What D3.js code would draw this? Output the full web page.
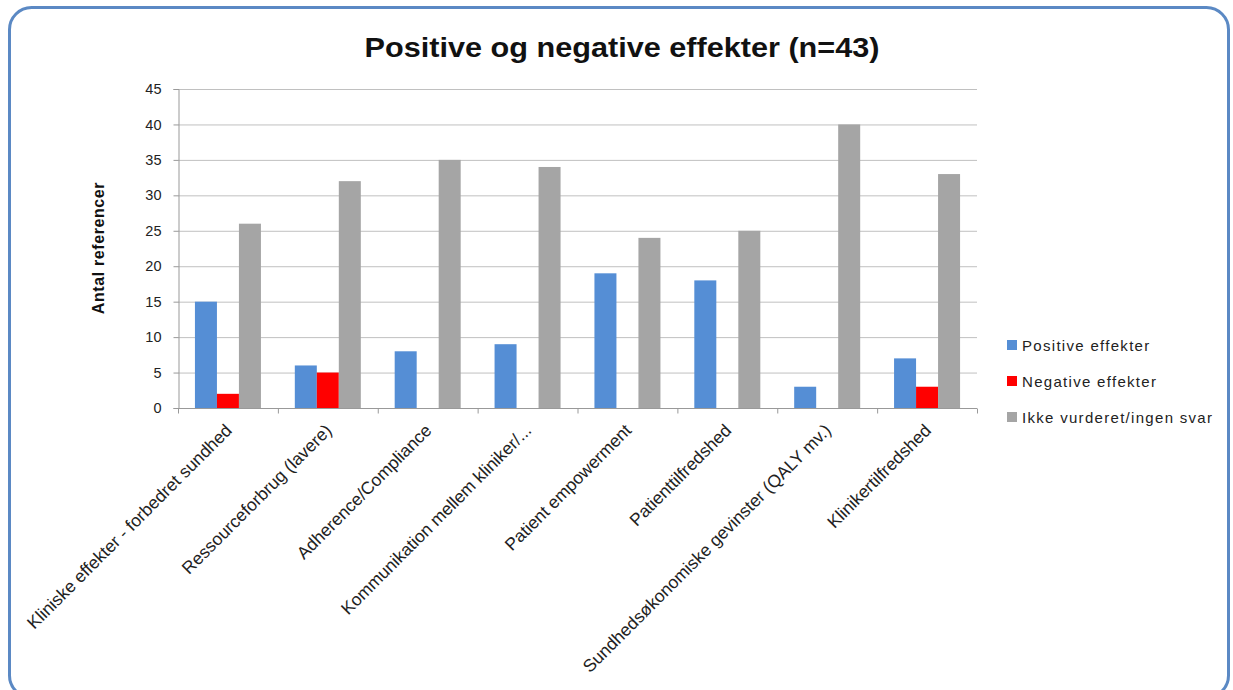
<!DOCTYPE html>
<html><head><meta charset="utf-8">
<script src="https://cdn.jsdelivr.net/npm/d3@7"></script>
<style>body{margin:0;background:#fff;}svg{display:block;}</style>
</head><body>
<svg id="chart" width="1233" height="690"></svg>
<script>
const categories = ["Kliniske effekter - forbedret sundhed","Ressourceforbrug (lavere)","Adherence/Compliance","Kommunikation mellem kliniker/...","Patient empowerment","Patienttilfredshed","Sundhedsøkonomiske gevinster (QALY mv.)","Klinikertilfredshed"];
const seriesNames = ["Positive effekter","Negative effekter","Ikke vurderet/ingen svar"];
const positive = [15,6,8,9,19,18,3,7];
const negative = [2,5,0,0,0,0,0,3];
const ikke = [26,32,35,34,24,25,40,33];
const yTicks = [0,5,10,15,20,25,30,35,40,45];
const colors = ["#558ed5","#ff0000","#a5a5a5"];
const title = "Positive og negative effekter (n=43)";
const yTitle = "Antal referencer";

const svg = d3.select("#chart");
const font = "'Liberation Sans', Arial, sans-serif";
// border
svg.append("rect").attr("x",9.5).attr("y",7.5).attr("width",1219).attr("height",690).attr("rx",22)
  .attr("fill","#fff").attr("stroke","#5b89c4").attr("stroke-width",3);

const L=178,R=977,T=89,B=408;
const x0 = d3.scaleBand().domain(categories).range([L,R]).padding(0);
const x1 = d3.scaleBand().domain(seriesNames).range([0,x0.bandwidth()]).paddingInner(0).paddingOuter(0.77);
const y = d3.scaleLinear().domain([0,45]).range([B,T]);

// gridlines
svg.append("g").selectAll("line").data(yTicks.filter(d=>d>0)).join("line")
  .attr("x1",L).attr("x2",R).attr("y1",d=>y(d)+0.5).attr("y2",d=>y(d)+0.5)
  .attr("stroke","#c0c0c0").attr("stroke-width",1);

// y axis
const ya = svg.append("g").attr("transform",`translate(${L+0.5},0)`)
  .call(d3.axisLeft(y).tickValues(yTicks).tickSize(5).tickPadding(12));
ya.select(".domain").attr("stroke","#999");
ya.selectAll(".tick line").attr("stroke","#999");
ya.selectAll("text").attr("font-family",font).attr("font-size",14.5).attr("fill","#222");

// bars
const data = [positive,negative,ikke];
const g = svg.append("g");
categories.forEach((c,i)=>{
  seriesNames.forEach((s,j)=>{
    const v = data[j][i];
    if(v>0) g.append("rect").attr("x",x0(c)+x1(s)).attr("width",x1.bandwidth())
      .attr("y",y(v)).attr("height",y(0)-y(v)).attr("fill",colors[j]);
  });
});

// x axis
const xa = svg.append("g").attr("transform",`translate(0,${B+0.5})`);
xa.append("line").attr("x1",L).attr("x2",R).attr("stroke","#999");
xa.selectAll("line.t").data(d3.range(categories.length+1)).join("line").attr("class","t")
  .attr("x1",i=>L+i*x0.step()+0.5).attr("x2",i=>L+i*x0.step()+0.5).attr("y1",0).attr("y2",5).attr("stroke","#999");
xa.selectAll("text").data(categories).join("text")
  .attr("transform",d=>`translate(${x0(d)+x0.bandwidth()/2+5},${23}) rotate(-45)`)
  .attr("text-anchor","end").attr("font-family",font).attr("font-size",17.5).attr("fill","#222")
  .text(d=>d);

// title
svg.append("text").attr("x",622).attr("y",57).attr("text-anchor","middle")
  .attr("font-family",font).attr("font-weight","bold").attr("font-size",28).attr("fill","#111")
  .attr("textLength",515).attr("lengthAdjust","spacingAndGlyphs").text(title);

// y title
svg.append("text").attr("transform","translate(104,248) rotate(-90)").attr("text-anchor","middle")
  .attr("font-family",font).attr("font-weight","bold").attr("font-size",16).attr("letter-spacing",0.6).attr("fill","#111").text(yTitle);

// legend
const lg = svg.append("g");
seriesNames.forEach((s,j)=>{
  const yy = 345 + j*36;
  lg.append("rect").attr("x",1007).attr("y",yy-5).attr("width",10).attr("height",10).attr("fill",colors[j]);
  lg.append("text").attr("x",1022).attr("y",yy+5.5).attr("font-family",font).attr("font-size",15).attr("letter-spacing",1.3).attr("fill","#222").text(s);
});
</script>
</body></html>
